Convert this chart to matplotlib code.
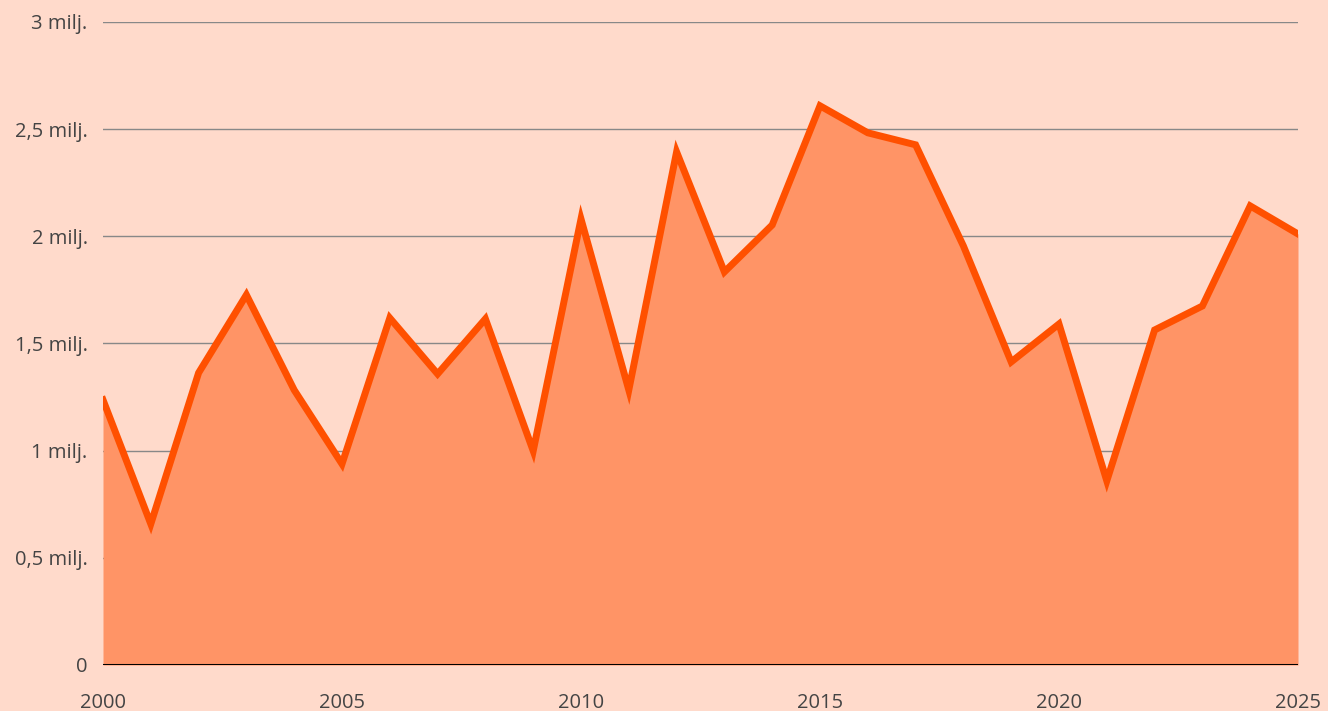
import numpy as np
import matplotlib.pyplot as plt

years = list(range(2000, 2026))
values = [1.237, 0.658, 1.363, 1.727, 1.283, 0.938, 1.619, 1.358, 1.615, 0.999,
          2.081, 1.283, 2.394, 1.834, 2.053, 2.609, 2.483, 2.427, 1.955, 1.414,
          1.591, 0.859, 1.563, 1.675, 2.142, 2.011]
yticks = [0, 0.5, 1, 1.5, 2, 2.5, 3]
ytick_labels = ["0", "0,5 milj.", "1 milj.", "1,5 milj.", "2 milj.", "2,5 milj.", "3 milj."]
xticks = [2000, 2005, 2010, 2015, 2020, 2025]

bg = "#FFDACB"
plt.rcParams['font.family'] = ['Open Sans', 'DejaVu Sans']

fig = plt.figure(figsize=(13.28, 7.11), dpi=100, facecolor=bg)
ax = fig.add_axes([103/1328, 46/711, 1195/1328, 643/711])
ax.set_facecolor(bg)

ax.fill_between(years, values, 0, color="#FF9466", lw=0, zorder=2)
ax.plot(years, values, color="#FF5000", lw=5, solid_joinstyle="miter", zorder=3)
ax.axhline(0, color="black", lw=2.2, zorder=4)

ax.set_xlim(2000, 2025)
ax.set_ylim(0, 3)
ax.set_yticks(yticks)
ax.set_yticklabels(ytick_labels)
ax.set_xticks(xticks)
ax.grid(axis="y", color="#888888", lw=1, zorder=1)
for s in ax.spines.values():
    s.set_visible(False)
ax.tick_params(length=0, labelsize=14.5, labelcolor="#444444")
ax.tick_params(axis="y", pad=11)
ax.tick_params(axis="x", pad=20)

fig.savefig("out.png", dpi=100, facecolor=bg)
